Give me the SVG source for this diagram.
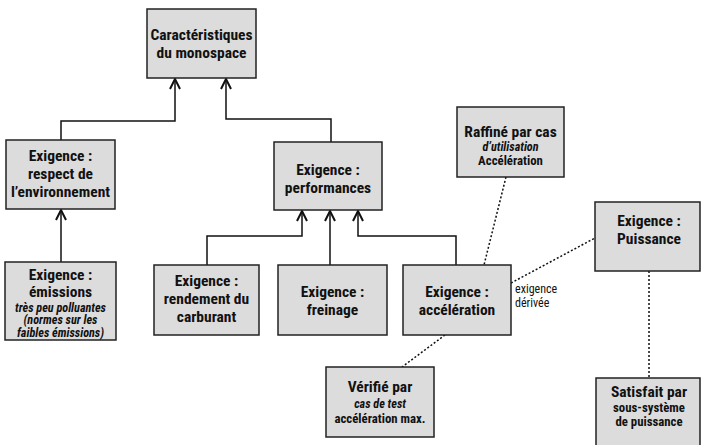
<svg xmlns="http://www.w3.org/2000/svg" width="701" height="445" viewBox="0 0 701 445">
<style>
.box{fill:#dcdcdc;stroke:#222;stroke-width:1.5}
text{font-family:"Liberation Sans Narrow","Roboto Condensed","Liberation Sans",sans-serif;text-anchor:middle;fill:#111}
.t{font-size:15.5px;font-weight:bold}
.s{font-size:12.8px;font-weight:bold}
.i{font-size:12.2px;font-weight:bold;font-style:italic}
.n{font-size:12px;text-anchor:start}
.c{fill:none;stroke:#111;stroke-width:1.5}
.d{fill:none;stroke:#111;stroke-width:1.5;stroke-dasharray:2 2}
</style>
<defs>
<marker id="arr" viewBox="0 0 12 12" refX="11" refY="6" markerWidth="12" markerHeight="12" markerUnits="userSpaceOnUse" orient="auto">
<path d="M1,1 L11,6 L1,11" fill="none" stroke="#111" stroke-width="2"/>
</marker>
</defs>
<g id="connectors">
<path class="c" d="M61,140 V121 H175 V79" marker-end="url(#arr)"/>
<path class="c" d="M331,142 V119 H226 V79" marker-end="url(#arr)"/>
<path class="c" d="M61,262 V210" marker-end="url(#arr)"/>
<path class="c" d="M207,265 V236 H302 V211" marker-end="url(#arr)"/>
<path class="c" d="M330,265 V211" marker-end="url(#arr)"/>
<path class="c" d="M456,265 V236 H358 V211" marker-end="url(#arr)"/>
<path class="d" d="M506,177 L484,265"/>
<path class="d" d="M511,283 L595,238"/>
<path class="d" d="M445,335 L402,367"/>
<path class="d" d="M649,271 V378"/>
<text class="n" x="515" y="293">exigence</text>
<text class="n" x="515" y="307">dérivée</text>
</g>
<g id="caracteristiques">
<rect class="box" x="147" y="9" width="109" height="69"/>
<text class="t" x="201.5" y="40">Caractéristiques</text>
<text class="t" x="201.5" y="58">du monospace</text>
</g>
<g id="respect">
<rect class="box" x="6" y="140" width="109" height="69"/>
<text class="t" x="60.5" y="161">Exigence :</text>
<text class="t" x="60.5" y="179">respect de</text>
<text class="t" x="60.5" y="197">l’environnement</text>
</g>
<g id="emissions">
<rect class="box" x="5" y="262" width="111" height="78"/>
<text class="t" x="60.5" y="280">Exigence :</text>
<text class="t" x="60.5" y="297">émissions</text>
<text class="i" x="60.5" y="311.5">très peu polluantes</text>
<text class="i" x="60.5" y="324">(normes sur les</text>
<text class="i" x="60.5" y="336.5">faibles émissions)</text>
</g>
<g id="performances">
<rect class="box" x="274" y="142" width="108" height="68"/>
<text class="t" x="328" y="175">Exigence :</text>
<text class="t" x="328" y="193">performances</text>
</g>
<g id="rendement">
<rect class="box" x="154" y="265" width="105" height="70"/>
<text class="t" x="206.5" y="286">Exigence :</text>
<text class="t" x="206.5" y="304">rendement du</text>
<text class="t" x="206.5" y="322">carburant</text>
</g>
<g id="freinage">
<rect class="box" x="278" y="265" width="109" height="70"/>
<text class="t" x="332.5" y="297">Exigence :</text>
<text class="t" x="332.5" y="315">freinage</text>
</g>
<g id="acceleration">
<rect class="box" x="403" y="265" width="108" height="70"/>
<text class="t" x="457" y="297">Exigence :</text>
<text class="t" x="457" y="315">accélération</text>
</g>
<g id="raffine">
<rect class="box" x="457" y="107" width="107" height="70"/>
<text class="t" x="510.5" y="137">Raffiné par cas</text>
<text class="i" x="510.5" y="151">d’utilisation</text>
<text class="s" x="510.5" y="164.5">Accélération</text>
</g>
<g id="puissance">
<rect class="box" x="595" y="202" width="105" height="69"/>
<text class="t" x="649" y="226">Exigence :</text>
<text class="t" x="649" y="244">Puissance</text>
</g>
<g id="satisfait">
<rect class="box" x="596" y="378" width="104" height="70"/>
<text class="t" x="649" y="397">Satisfait par</text>
<text class="s" x="649" y="412">sous-système</text>
<text class="s" x="649" y="426">de puissance</text>
</g>
<g id="verifie">
<rect class="box" x="326" y="367" width="108" height="70"/>
<text class="t" x="380" y="392">Vérifié par</text>
<text class="i" x="380" y="408">cas de test</text>
<text class="s" x="380" y="423">accélération max.</text>
</g>
</svg>
